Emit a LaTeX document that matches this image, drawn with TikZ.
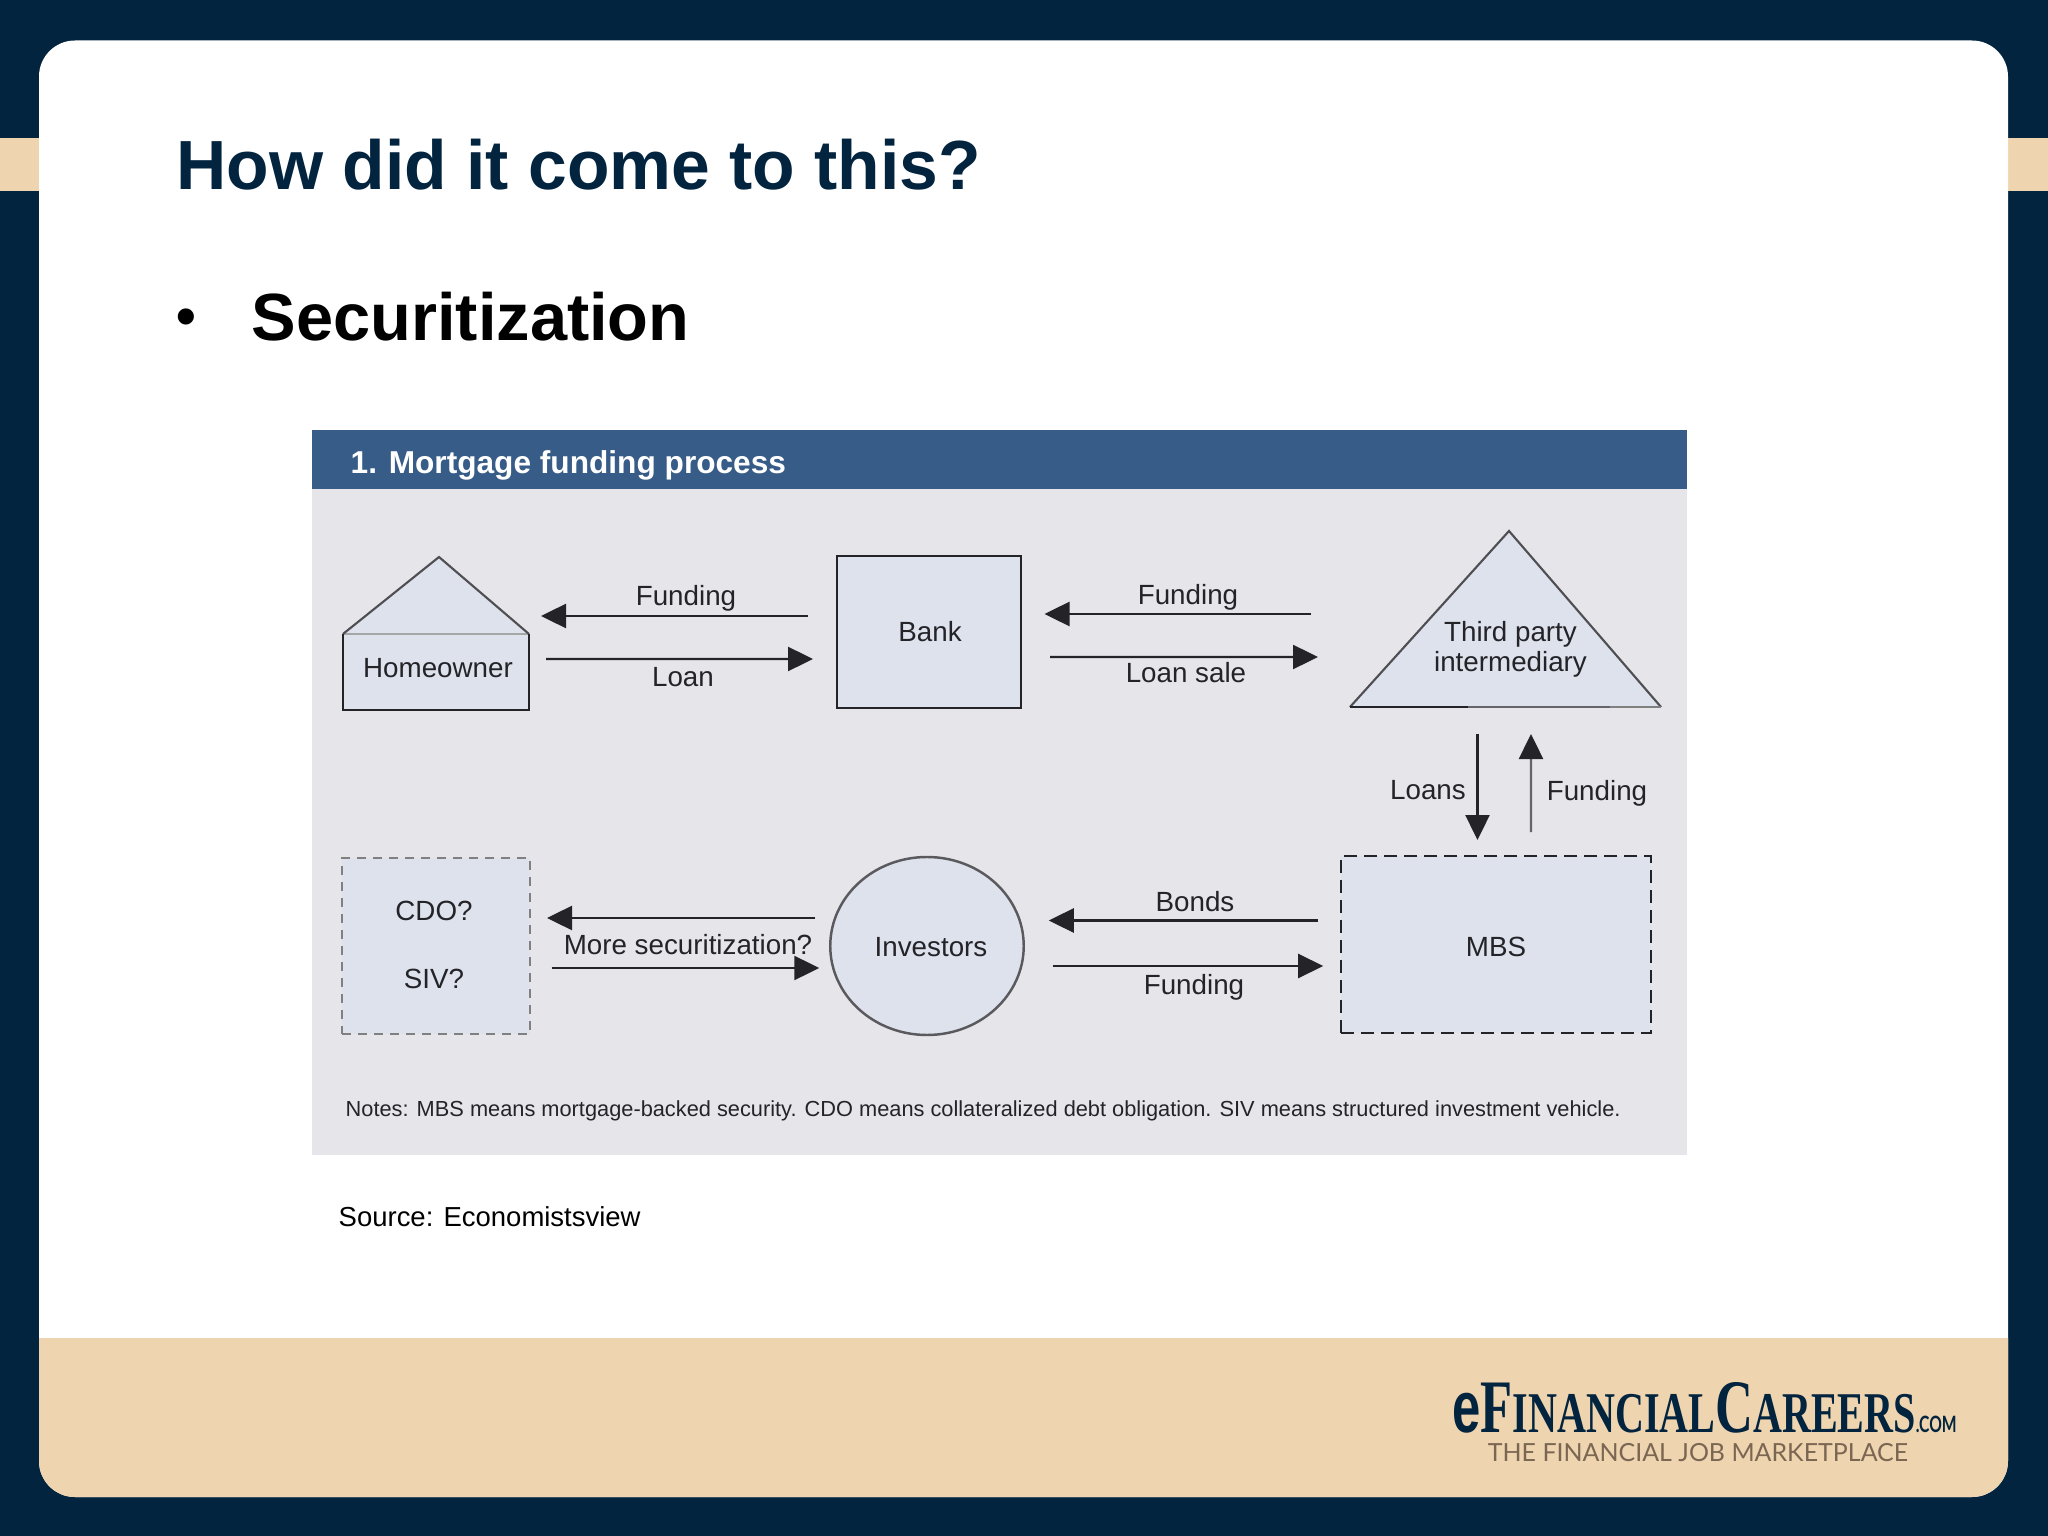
\documentclass[tikz,border=0pt]{standalone}
\usepackage{fontspec}
\setmainfont{Liberation Sans}
\newfontfamily\logoserif{Liberation Serif}
\newfontfamily\logosans{Lato}
\usetikzlibrary{arrows.meta,shapes.geometric}
\definecolor{efnavy}{RGB}{3,36,63}
\definecolor{eftan}{RGB}{238,212,175}
\definecolor{efpanel}{RGB}{230,230,234}
\definecolor{efshape}{RGB}{222,226,236}
\definecolor{efheader}{RGB}{55,92,135}
\definecolor{efink}{RGB}{35,35,40}
\definecolor{efbrown}{RGB}{122,102,82}
\tikzstyle{arrow} = [line width=0.7pt,color=efink,-{Triangle[length=0.25cm,width=0.24cm,color=efink]}]
\tikzstyle{shapebox} = [fill=efshape,inner sep=0pt,outer sep=0pt]
\tikzstyle{label} = [text=efink,inner sep=0pt,font=\fontsize{7.9}{9.5}\selectfont]

\begin{document}
\begin{tikzpicture}[y=-1cm]
    \useasboundingbox (0,0) rectangle (20.48,15.36);

    % Slide frame
    \fill[efnavy] (0,0) rectangle (20.48,15.36);
    \fill[eftan] (0,1.38) rectangle (20.48,1.91);
    \fill[white,rounded corners=0.36cm] (0.39,0.405) rectangle (20.08,14.97);
    \fill[eftan] (0.39,13.38) -- (20.08,13.38) [rounded corners=0.36cm] -- (20.08,14.97) -- (0.39,14.97) [sharp corners] -- cycle;

    % Headings
    \node[anchor=base west,inner sep=0pt,text=efnavy,font=\fontsize{19.8}{25}\selectfont\bfseries] (title) at (1.76,1.90) {How did it come to this?};
    \node[anchor=base west,inner sep=0pt,font=\fontsize{19}{25}\selectfont\bfseries] (topic) at (2.51,3.41) {Securitization};
    \node[anchor=base,inner sep=0pt,font=\fontsize{16}{20}\selectfont\bfseries] (bullet) at (1.86,3.36) {•};

    % Panel
    \fill[efpanel] (3.12,4.89) rectangle (16.87,11.55);
    \fill[efheader] (3.12,4.30) rectangle (16.87,4.89);
    \node[anchor=west,inner sep=0pt,text=white,font=\fontsize{9}{11}\selectfont\bfseries] (header) at (3.50,4.65) {1. Mortgage funding process};

    % Homeowner
    \node[shapebox,minimum width=1.86cm,minimum height=0.76cm] (home) at (4.36,6.72) {};
    \fill[efshape] (home.north west) -- (4.39,5.57) -- (home.north east) -- cycle;
    \draw[gray!70] (home.north west) -- (home.north east);
    \draw[line width=0.6pt,efink!80] (home.north west) -- (4.39,5.57) -- (home.north east);
    \draw[line width=0.7pt,efink] (home.north west) -- (home.south west) -- (home.south east) -- (home.north east);
    \node[label] (homelabel) at (4.38,6.68) {Homeowner};

    % Bank
    \node[shapebox,draw=efink,line width=0.7pt,minimum width=1.84cm,minimum height=1.52cm] (bank) at (9.29,6.32) {};
    \node[label] (banklabel) at (9.30,6.32) {Bank};

    % Third party
    \coordinate (thirdleft) at (13.50,7.07);
    \coordinate (thirdbase) at (15.05,7.07);
    \coordinate (thirdright) at (16.61,7.07);
    \fill[efshape] (thirdleft) -- (15.09,5.31) -- (thirdright) -- cycle;
    \draw[line width=0.6pt,efink!80] (thirdleft) -- (15.09,5.31) -- (thirdright);
    \draw[line width=0.7pt,efink] (thirdleft) -- (14.68,7.07);
    \draw[line width=0.7pt,efink!70] (14.68,7.07) -- (16.10,7.07);
    \draw[line width=0.7pt,gray] (16.10,7.07) -- (thirdright);
    \node[label,align=center,font=\fontsize{7.9}{8.5}\selectfont] (thirdlabel) at (15.105,6.495) {Third party\\intermediary};

    % MBS
    \node[shapebox,draw=efink,dashed,dash pattern=on 0.13cm off 0.07cm,line width=0.7pt,minimum width=3.096cm,minimum height=1.77cm] (mbs) at (14.96,9.445) {};
    \node[label] (mbslabel) at (14.96,9.47) {MBS};

    % Investors
    \node[shapebox,ellipse,draw=efink!75,line width=0.7pt,minimum width=1.935cm,minimum height=1.78cm] (investors) at (9.27,9.46) {};
    \node[label] (investorslabel) at (9.31,9.47) {Investors};

    % CDO / SIV
    \node[shapebox,draw=gray,dashed,dash pattern=on 0.09cm off 0.07cm,line width=0.8pt,minimum width=1.88cm,minimum height=1.76cm] (cdo) at (4.36,9.46) {};
    \node[label,align=center,font=\fontsize{7.9}{19.3}\selectfont] (cdolabel) at (4.34,9.45) {CDO?\\SIV?};

    % Arrows top row
    \draw[arrow] ([xshift=-0.29cm,yshift=0.16cm]bank.west) -- ([xshift=0.12cm,yshift=0.56cm]home.east);
    \node[label] (funding1) at (6.86,5.98) {Funding};
    \draw[arrow] ([xshift=0.17cm,yshift=0.13cm]home.east) -- ([xshift=-0.24cm,yshift=-0.27cm]bank.west);
    \node[label] (loan) at (6.83,6.77) {Loan};
    \draw[arrow] ([xshift=-0.39cm,yshift=0.93cm]thirdleft) -- ([xshift=0.235cm,yshift=0.18cm]bank.east);
    \node[label] (funding2) at (11.88,5.975) {Funding};
    \draw[arrow] ([xshift=0.29cm,yshift=-0.25cm]bank.east) -- ([xshift=-0.32cm,yshift=0.50cm]thirdleft);
    \node[label] (loansale) at (11.86,6.725) {Loan sale};

    % Arrows right side
    \draw[arrow] ([xshift=-0.275cm,yshift=-0.275cm]thirdbase) -- ([xshift=-0.185cm,yshift=0.16cm]mbs.north);
    \node[label] (loans) at (14.28,7.90) {Loans};
    \draw[arrow,color=efink!70] ([xshift=0.35cm,yshift=0.24cm]mbs.north) -- ([xshift=0.26cm,yshift=-0.27cm]thirdbase);
    \node[label] (funding3) at (15.97,7.93) {Funding};

    % Arrows bottom row
    \draw[arrow] ([xshift=-0.23cm,yshift=0.24cm]mbs.west) -- ([xshift=0.25cm,yshift=0.255cm]investors.east);
    \node[label] (bonds) at (11.95,9.02) {Bonds};
    \draw[arrow] ([xshift=0.29cm,yshift=-0.20cm]investors.east) -- ([xshift=-0.18cm,yshift=-0.215cm]mbs.west);
    \node[label] (funding4) at (11.94,9.87) {Funding};
    \draw[arrow] ([xshift=-0.15cm,yshift=0.28cm]investors.west) -- ([xshift=0.17cm,yshift=0.28cm]cdo.east);
    \draw[arrow] ([xshift=0.215cm,yshift=-0.22cm]cdo.east) -- ([xshift=-0.11cm,yshift=-0.22cm]investors.west);
    \node[label] (more) at (6.88,9.45) {More securitization?};

    % Notes
    \node[anchor=west,inner sep=0pt,text=efink,font=\fontsize{6.2}{7.5}\selectfont] (notes) at (3.45,11.11) {Notes: MBS means mortgage-backed security. CDO means collateralized debt obligation. SIV means structured investment vehicle.};

    % Source
    \node[anchor=west,inner sep=0pt,font=\fontsize{7.82}{10}\selectfont] (source) at (3.38,12.165) {Source: Economistsview};

    % Logo
    \node[anchor=base west,inner sep=0pt,text=efnavy,xscale=0.695,transform shape] (logo) at (14.52,14.32) {\bfseries\fontsize{20.8}{25}\selectfont e\logoserif\fontsize{21.5}{25}\selectfont F\fontsize{16.4}{20}\selectfont INANCIAL\fontsize{21.5}{25}\selectfont C\fontsize{16.4}{20}\selectfont AREERS\logosans\fontsize{6.4}{8}\selectfont .COM};
    \node[inner sep=0pt,text=efbrown,font=\logosans\fontsize{7.1}{9}\selectfont] (tagline) at (16.98,14.53) {THE FINANCIAL JOB MARKETPLACE};
\end{tikzpicture}
\end{document}
